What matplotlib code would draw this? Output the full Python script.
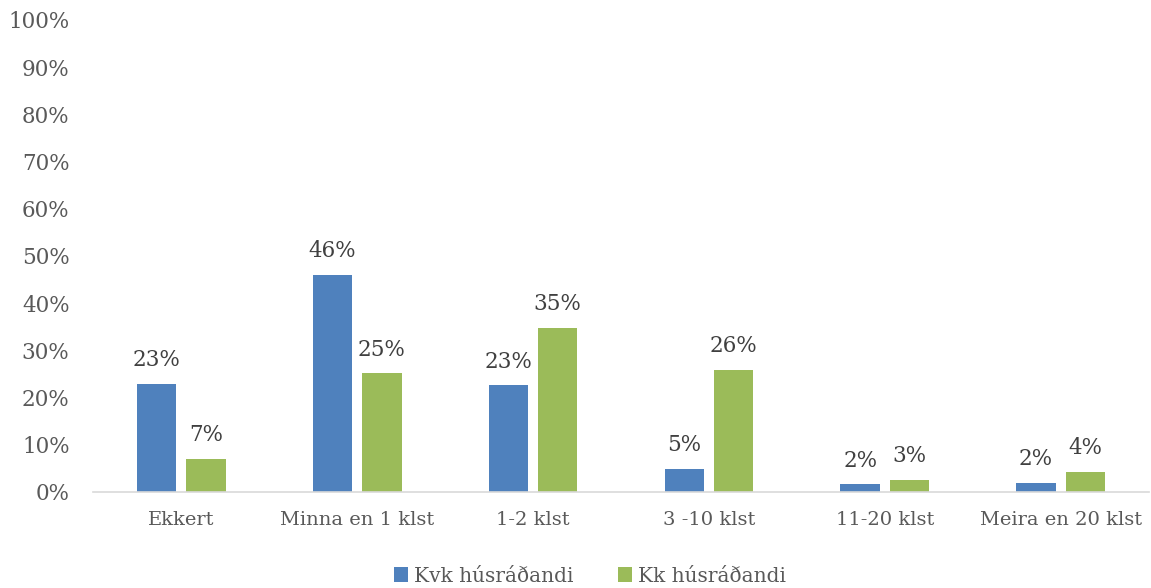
import numpy as np
import matplotlib.pyplot as plt

flokkar = ["Ekkert", "Minna en 1 klst", "1-2 klst", "3 -10 klst", "11-20 klst", "Meira en 20 klst"]
kvk = np.array([22.9, 46.0, 22.6, 4.9, 1.6, 2.0])
kk = np.array([7.0, 25.2, 34.8, 25.9, 2.6, 4.3])
kvk_merki = ["23%", "46%", "23%", "5%", "2%", "2%"]
kk_merki = ["7%", "25%", "35%", "26%", "3%", "4%"]

plt.rcParams['font.family'] = ['DejaVu Serif']

fig = plt.figure(figsize=(11.51, 5.88), dpi=100)
ax = fig.add_axes([0.081, 0.1633, 0.917, 0.8027])

x = np.arange(len(flokkar))
w = 0.225
b1 = ax.bar(x - 0.14, kvk, w, color='#4F81BD', label='Kvk húsráðandi')
b2 = ax.bar(x + 0.14, kk, w, color='#9BBB59', label='Kk húsráðandi')

for bars, merki in ((b1, kvk_merki), (b2, kk_merki)):
    for r, m in zip(bars, merki):
        ax.annotate(m, (r.get_x() + r.get_width() / 2, r.get_height()),
                    xytext=(0, 9), textcoords='offset points',
                    ha='center', va='bottom', fontsize=15.5, color='#404040')

ax.set_xlim(-0.5, 5.5)
ax.set_ylim(0, 100)
ax.set_yticks(np.arange(0, 101, 10))
ax.set_yticklabels([f"{v}%" for v in range(0, 101, 10)])
ax.set_xticks(x)
ax.set_xticklabels(flokkar)
ax.tick_params(axis='both', length=0, labelcolor='#595959')
ax.tick_params(axis='x', pad=14, labelsize=14)
ax.tick_params(axis='y', pad=17, labelsize=15.5)
for s in ['top', 'right', 'left']:
    ax.spines[s].set_visible(False)
ax.spines['bottom'].set_color('#D9D9D9')
ax.spines['bottom'].set_linewidth(1.2)

leg = fig.legend(loc='center', bbox_to_anchor=(590 / 1151, 1 - 576 / 588), ncol=2,
                 frameon=False, fontsize=14.5, handlelength=0.7, handleheight=0.7,
                 handletextpad=0.3, columnspacing=2.2)
for t in leg.get_texts():
    t.set_color('#595959')

fig.savefig('out.png', dpi=100)
